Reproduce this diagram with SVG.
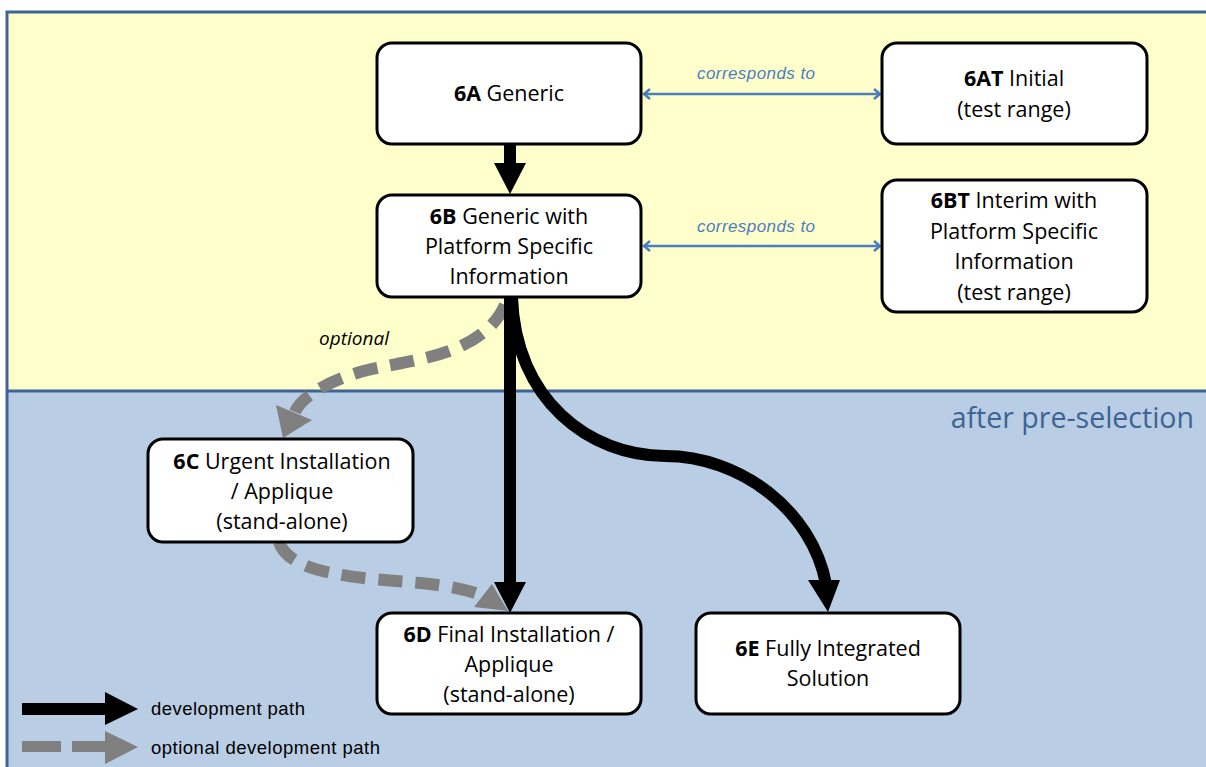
<svg xmlns="http://www.w3.org/2000/svg" width="1206" height="767" viewBox="0 0 1206 767">
<style>
.node rect{fill:#fff;stroke:#000;stroke-width:3}
.nt{font-family:"Open Sans","Liberation Sans",sans-serif;font-size:21.5px;fill:#000;text-anchor:middle}
.b{font-weight:bold}
.cor{font-family:"Liberation Sans",Arial,sans-serif;font-size:17px;font-style:italic;fill:#4a7ebb;text-anchor:middle}
.leg{font-family:"Liberation Sans",Arial,sans-serif;font-size:18.5px;fill:#000}
.blue{stroke:#4a7ebb;stroke-width:2.5;fill:none}
.dev{stroke:#000;stroke-width:12;fill:none}
.opt{stroke:#808080;stroke-width:12;fill:none;stroke-dasharray:24 13}
</style>
<defs>
<marker id="ba" viewBox="0 0 12 12" refX="6" refY="6" markerWidth="12" markerHeight="12" orient="auto-start-reverse" markerUnits="userSpaceOnUse">
<path d="M1,1 L7,6 L1,11" fill="none" stroke="#4a7ebb" stroke-width="2.5"/>
</marker>
</defs>
<g id="background">
<rect x="7" y="12" width="1210" height="380" fill="#ffffcc"/>
<rect x="7" y="392" width="1210" height="380" fill="#b9cde4"/>
<path d="M7,780 L7,12 L1220,12" fill="none" stroke="#3d6494" stroke-width="3"/>
<line x1="7" y1="391" x2="1220" y2="391" stroke="#3d6494" stroke-width="3"/>
<text x="1194" y="428" font-family="Open Sans,Liberation Sans,sans-serif" font-size="28.5" fill="#3d6494" text-anchor="end">after pre-selection</text>
</g>
<g id="connectors">
<line class="blue" x1="645" y1="94" x2="879" y2="94" marker-start="url(#ba)" marker-end="url(#ba)"/>
<text class="cor" x="756" y="79" textLength="118">corresponds to</text>
<line class="blue" x1="645" y1="246" x2="879" y2="246" marker-start="url(#ba)" marker-end="url(#ba)"/>
<text class="cor" x="756" y="232" textLength="118">corresponds to</text>
<line class="dev" x1="510" y1="144" x2="510" y2="164"/>
<polygon points="494,163 526,163 510,194" fill="#000"/>
<path class="opt" d="M505,305 C480,360 400,360 360,372 C320,384 300,400 295,412"/>
<polygon points="276,405 312,420 283,438" fill="#808080"/>
<path class="opt" d="M279,542 C290,575 360,578 420,583 C450,586 470,590 486,597"/>
<polygon points="492,584 508,611 474,607" fill="#808080"/>
<line class="dev" x1="510" y1="297" x2="510" y2="584"/>
<polygon points="494,582 526,582 510,613" fill="#000"/>
<path class="dev" d="M512,297 C515,400 590,456 665,456 C740,456 812,510 826,584"/>
<polygon points="808,580 840,580 828,612" fill="#000"/>
<text x="354" y="345" font-family="Open Sans,Liberation Sans,sans-serif" font-size="19" font-style="italic" text-anchor="middle">optional</text>
</g>
<g id="n6A" class="node"><rect x="377" y="43" width="264" height="101" rx="15"/><text class="nt" x="509" y="101"><tspan class="b">6A</tspan> Generic</text></g>
<g id="n6AT" class="node"><rect x="882" y="43" width="265" height="101" rx="15"/><text class="nt" x="1014" y="86"><tspan class="b">6AT</tspan> Initial</text><text class="nt" x="1014" y="117">(test range)</text></g>
<g id="n6B" class="node"><rect x="377" y="195" width="264" height="102" rx="15"/><text class="nt" x="509" y="224"><tspan class="b">6B</tspan> Generic with</text><text class="nt" x="509" y="254">Platform Specific</text><text class="nt" x="509" y="284">Information</text></g>
<g id="n6BT" class="node"><rect x="882" y="180" width="265" height="132" rx="15"/><text class="nt" x="1014" y="208"><tspan class="b">6BT</tspan> Interim with</text><text class="nt" x="1014" y="239">Platform Specific</text><text class="nt" x="1014" y="269">Information</text><text class="nt" x="1014" y="300">(test range)</text></g>
<g id="n6C" class="node"><rect x="148" y="439" width="265" height="103" rx="15"/><text class="nt" x="282" y="469"><tspan class="b">6C</tspan> Urgent Installation</text><text class="nt" x="282" y="499">/ Applique</text><text class="nt" x="282" y="529">(stand-alone)</text></g>
<g id="n6D" class="node"><rect x="377" y="613" width="264" height="101" rx="15"/><text class="nt" x="509" y="642"><tspan class="b">6D</tspan> Final Installation /</text><text class="nt" x="509" y="672">Applique</text><text class="nt" x="509" y="702">(stand-alone)</text></g>
<g id="n6E" class="node"><rect x="696" y="613" width="264" height="101" rx="15"/><text class="nt" x="828" y="656"><tspan class="b">6E</tspan> Fully Integrated</text><text class="nt" x="828" y="686">Solution</text></g>
<g id="legend">
<line x1="22" y1="709" x2="107" y2="709" stroke="#000" stroke-width="12"/>
<polygon points="105,692 138,709 105,725" fill="#000"/>
<text class="leg" x="151" y="715" textLength="154">development path</text>
<rect x="22" y="741" width="39" height="11" fill="#808080"/>
<rect x="72" y="741" width="35" height="11" fill="#808080"/>
<polygon points="105,731 138,747 105,764" fill="#808080"/>
<text class="leg" x="151" y="754" textLength="229">optional development path</text>
</g>
</svg>
